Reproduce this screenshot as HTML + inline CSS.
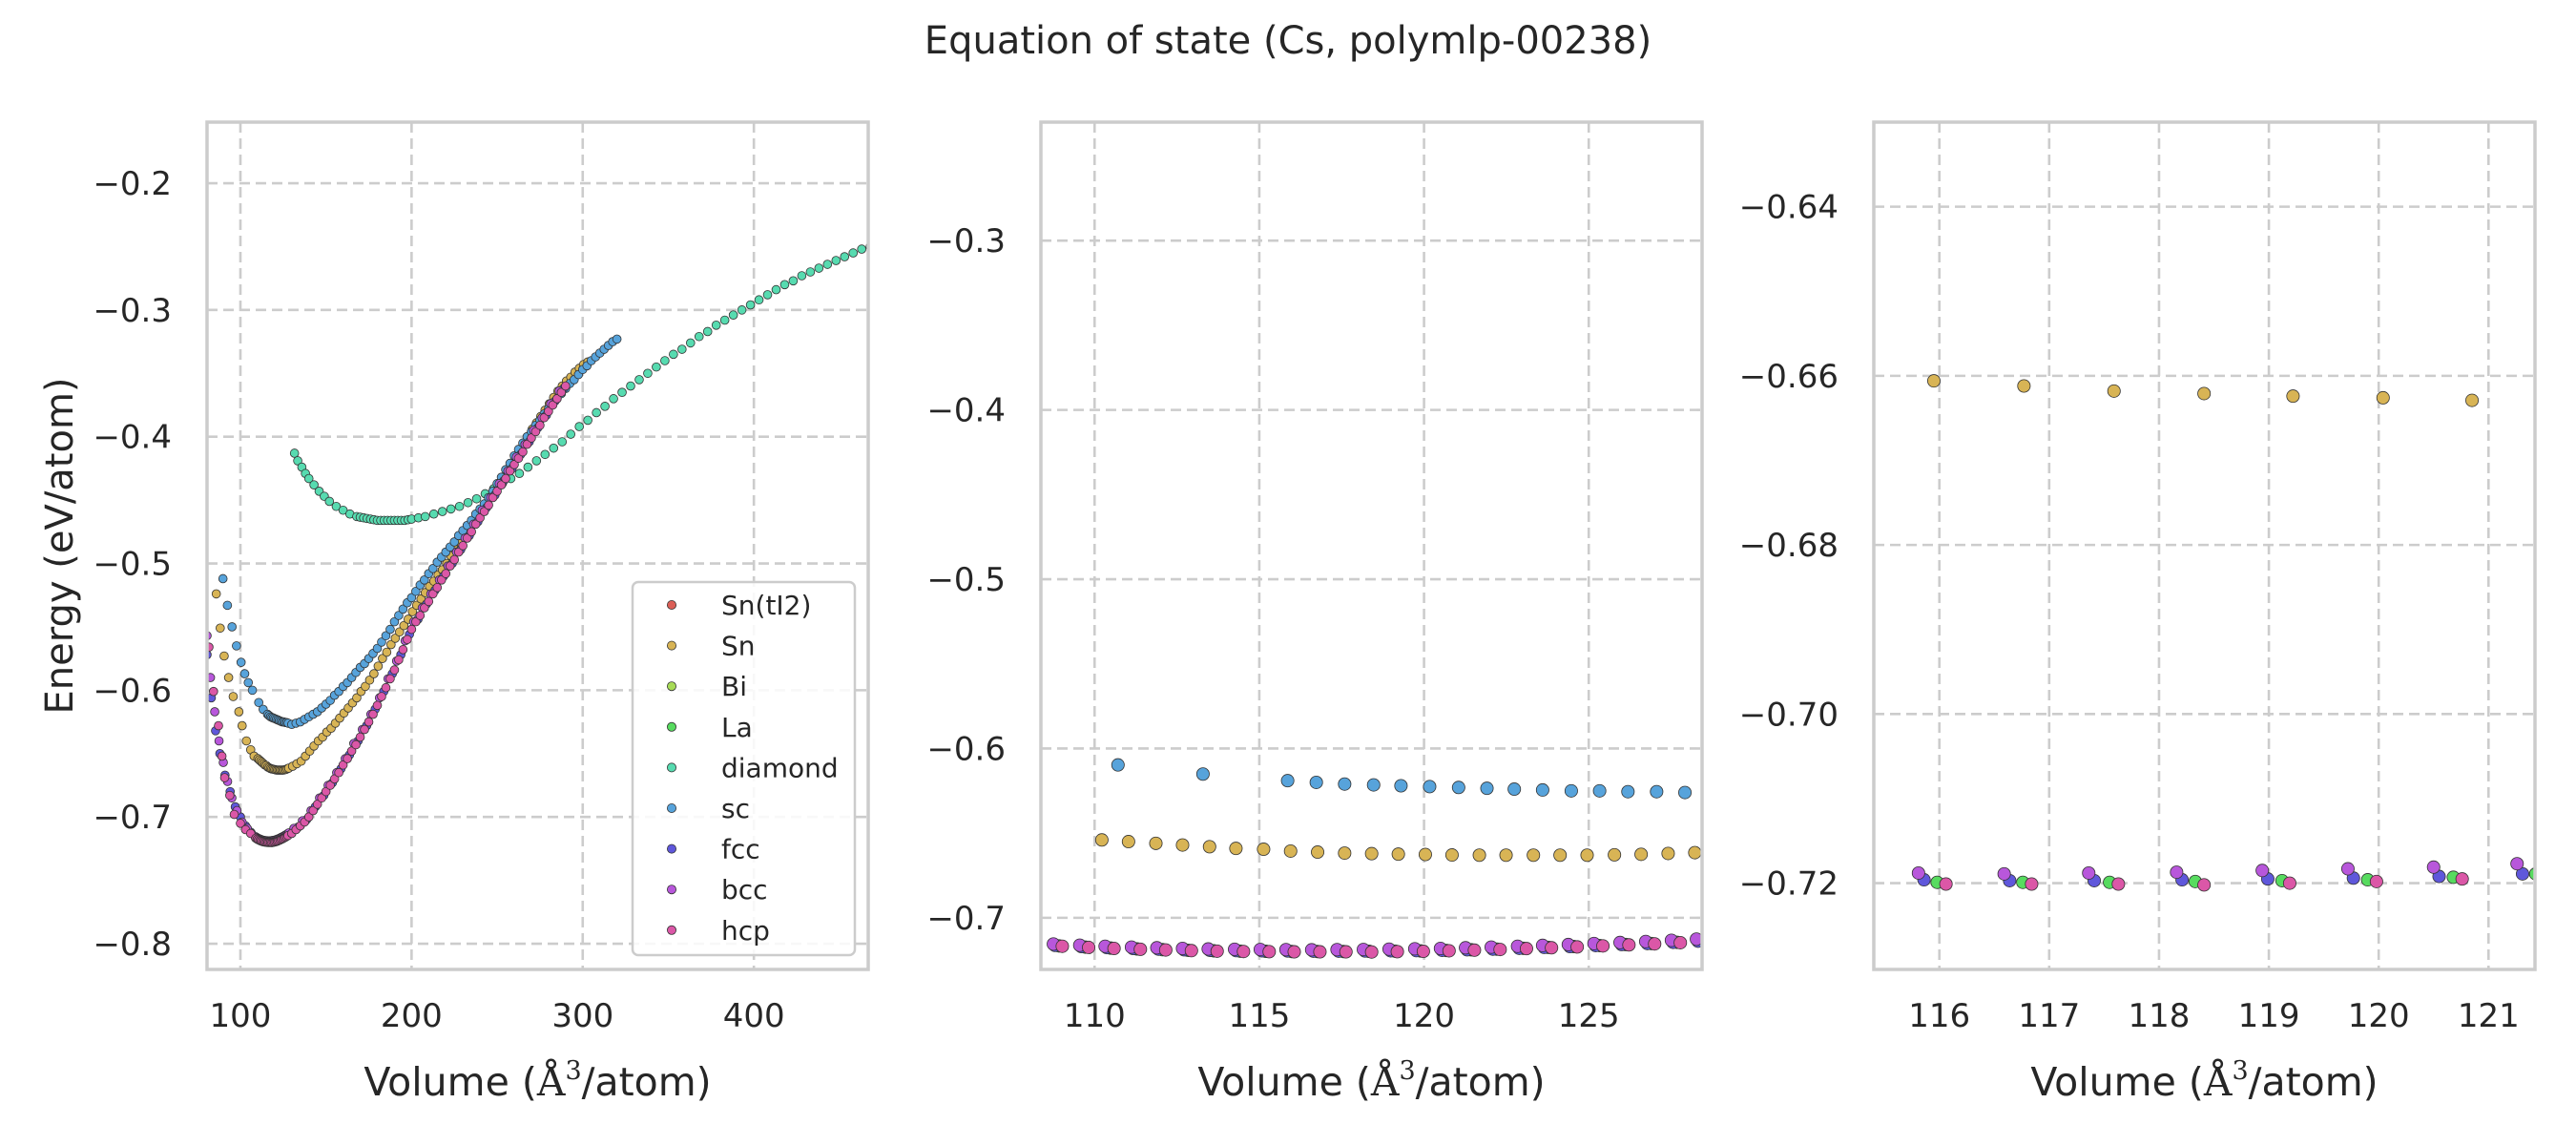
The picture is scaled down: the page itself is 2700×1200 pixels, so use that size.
<!DOCTYPE html>
<html><head><meta charset="utf-8"><style>
html,body{margin:0;padding:0;background:#fff;}
svg{display:block;font-family:"DejaVu Sans","Liberation Sans",sans-serif;}
</style></head><body>
<svg id="fig" width="2700" height="1200" viewBox="0 0 2700 1200" style="position:absolute;left:0;top:0">
<rect x="0" y="0" width="2700" height="1200" fill="#fff"/>
<text x="1350" y="56" text-anchor="middle" font-size="40" fill="#262626">Equation of state (Cs, polymlp-00238)</text>
<text x="0" y="0" transform="translate(76,572) rotate(-90)" text-anchor="middle" font-size="40" fill="#262626">Energy (eV/atom)</text>
<g id="panels"></g>
</svg>
<script>
// ---- data (volume Å^3/atom, energy eV/atom) ----
const seriesNames = ["Sn(tI2)","Sn","Bi","La","diamond","sc","fcc","bcc","hcp"];
const seriesColors = ["#db5f57","#d8b455","#a7db57","#57db5f","#57dbb0","#57a3db","#5f57db","#b857db","#db57a7"];

const snTI2V = [];
const snTI2E = [];
const biV = [];
const biE = [];

const snV = [85.9,88.2,90.5,93.1,95.8,99.1,101,103.5,106,108,110.22,111.03,111.86,112.67,113.49,114.29,115.13,115.95,116.77,117.59,118.41,119.22,120.04,120.85,121.68,122.49,123.32,124.13,124.95,125.78,126.59,127.41,128.22,130.5,133,135.5,138,140.5,143,145.5,148,150.5,153,155.5,158,160.5,163,165.5,168,170.5,173,175.5,178,180.5,183,185.5,188,190.5,193,195.5,198,200.5,203,205.5,208,210.5,213,215.5,218,220.5,223,225.5,228,230.5,233,235.5,238,240.5,243,245.5,248,250.5,253,255.5,258,260.5,263,265.5,268,270.5,273,275.5,278,280.5,283,285.5,288,290.5,293,295.5,298,300.5,303];
const snE = [-0.524,-0.551,-0.573,-0.590,-0.605,-0.617,-0.628,-0.640,-0.647,-0.652,-0.654,-0.655,-0.656,-0.657,-0.658,-0.659,-0.6595,-0.6606,-0.6612,-0.6618,-0.6621,-0.6624,-0.6626,-0.6629,-0.663,-0.663,-0.663,-0.663,-0.663,-0.6628,-0.6625,-0.662,-0.6615,-0.660,-0.658,-0.656,-0.652,-0.648,-0.644,-0.640,-0.637,-0.633,-0.630,-0.626,-0.622,-0.618,-0.614,-0.610,-0.606,-0.601,-0.597,-0.592,-0.587,-0.581,-0.575,-0.570,-0.564,-0.559,-0.554,-0.549,-0.544,-0.538,-0.533,-0.528,-0.523,-0.518,-0.514,-0.509,-0.505,-0.500,-0.494,-0.489,-0.483,-0.478,-0.473,-0.468,-0.463,-0.458,-0.453,-0.448,-0.443,-0.438,-0.432,-0.427,-0.421,-0.416,-0.410,-0.405,-0.400,-0.394,-0.389,-0.384,-0.379,-0.374,-0.369,-0.364,-0.360,-0.356,-0.353,-0.349,-0.346,-0.343,-0.341];

const laV = [108.92,109.72,110.49,111.29,112.06,112.84,113.62,114.42,115.20,115.98,116.76,117.55,118.33,119.12,119.90,120.68,121.43,122.21,123.01,123.77,124.55,125.33,126.12,126.90,127.68];
const laE = [-0.7166,-0.7173,-0.7179,-0.7184,-0.7188,-0.7192,-0.7195,-0.7197,-0.7198,-0.7199,-0.7199,-0.7199,-0.7198,-0.7197,-0.7196,-0.7193,-0.7189,-0.7185,-0.7180,-0.7175,-0.7170,-0.7164,-0.7158,-0.7152,-0.7145];

const diamondV = [131.6,133.5,135.9,138,140,143,146,149,152,156,160,164,168,170,172,174,176,178,180,182,184,186,188,190,192,194,196,198,200,204,208,213,218,223,228,233,238,243,248,253,258,263,268,273,278,283,288,293,298,303,308,313,318,323,328,333,338,343,348,353,358,363,368,373,378,383,388,393,398,403,408,413,418,423,428,433,438,443,448,453,458,463,468];
const diamondE = [-0.413,-0.419,-0.424,-0.429,-0.433,-0.438,-0.443,-0.447,-0.451,-0.455,-0.458,-0.461,-0.463,-0.4635,-0.464,-0.4645,-0.465,-0.4655,-0.466,-0.466,-0.466,-0.466,-0.466,-0.466,-0.466,-0.466,-0.466,-0.4655,-0.465,-0.464,-0.463,-0.461,-0.459,-0.457,-0.455,-0.452,-0.449,-0.445,-0.441,-0.437,-0.433,-0.429,-0.424,-0.419,-0.414,-0.409,-0.404,-0.398,-0.392,-0.387,-0.381,-0.376,-0.370,-0.365,-0.360,-0.355,-0.350,-0.345,-0.340,-0.335,-0.331,-0.326,-0.321,-0.317,-0.312,-0.308,-0.304,-0.300,-0.296,-0.292,-0.288,-0.284,-0.280,-0.277,-0.273,-0.270,-0.267,-0.264,-0.261,-0.258,-0.255,-0.252,-0.250];

const scV = [89.8,92.4,95.1,97.7,100.4,102.5,104.6,107,110.71,113.29,115.86,116.73,117.59,118.47,119.30,120.17,121.05,121.91,122.74,123.60,124.47,125.33,126.19,127.06,127.92,130,132.5,135,137.5,140,142.5,145,147.5,150,152.5,155,157.5,160,162.5,165,167.5,170,172.5,175,177.5,180,182.5,185,187.5,190,192.5,195,197.5,200,202.5,205,207.5,210,212.5,215,217.5,220,222.5,225,227.5,230,232.5,235,237.5,240,242.5,245,247.5,250,252.5,255,257.5,260,262.5,265,267.5,270,272.5,275,277.5,280,282.5,285,287.5,290,292.5,295,297.5,300,302.5,305,307.5,310,312.5,315,317.5,320];
const scE = [-0.512,-0.533,-0.550,-0.565,-0.578,-0.587,-0.594,-0.600,-0.6097,-0.6151,-0.619,-0.620,-0.621,-0.6215,-0.622,-0.6225,-0.623,-0.6235,-0.624,-0.6245,-0.625,-0.625,-0.6255,-0.6255,-0.626,-0.627,-0.626,-0.625,-0.623,-0.621,-0.619,-0.617,-0.614,-0.611,-0.608,-0.604,-0.601,-0.597,-0.594,-0.590,-0.586,-0.582,-0.579,-0.575,-0.571,-0.567,-0.562,-0.557,-0.552,-0.546,-0.541,-0.536,-0.531,-0.527,-0.522,-0.517,-0.513,-0.508,-0.504,-0.499,-0.495,-0.491,-0.487,-0.483,-0.478,-0.474,-0.470,-0.466,-0.461,-0.457,-0.453,-0.448,-0.443,-0.437,-0.432,-0.426,-0.421,-0.415,-0.410,-0.405,-0.400,-0.396,-0.391,-0.387,-0.382,-0.378,-0.374,-0.370,-0.366,-0.362,-0.358,-0.355,-0.351,-0.347,-0.344,-0.340,-0.337,-0.334,-0.331,-0.328,-0.325,-0.323];

const fccV = [80.5,83,85.5,88,91,94,97,100,103,106,108.80,109.60,110.37,111.17,111.94,112.72,113.50,114.30,115.08,115.86,116.64,117.41,118.21,118.99,119.77,120.55,121.31,122.09,122.89,123.65,124.43,125.21,126.00,126.78,127.56,128.32,133.75,138.75,143.75,148.75,153.75,158.75,163.75,168.75,173.75,178.75,183.75,188.75,193.75,198.75,203.75,208.75,213.75,218.75,223.75,228.75,233.75,238.75,243.75,248.75,253.75,258.75,263.75,268.75,273.75,278.75,283.75,288.75];
const fccE = [-0.572,-0.606,-0.632,-0.650,-0.667,-0.680,-0.692,-0.700,-0.707,-0.712,-0.7163,-0.7170,-0.7176,-0.7181,-0.7185,-0.7189,-0.7192,-0.7194,-0.7195,-0.7196,-0.7197,-0.7197,-0.7196,-0.7195,-0.7194,-0.7192,-0.7189,-0.7185,-0.7180,-0.7175,-0.7170,-0.7164,-0.7158,-0.7152,-0.7145,-0.7138,-0.708,-0.702,-0.692,-0.683,-0.673,-0.662,-0.651,-0.640,-0.628,-0.615,-0.601,-0.587,-0.572,-0.556,-0.544,-0.532,-0.521,-0.510,-0.500,-0.489,-0.478,-0.467,-0.456,-0.446,-0.435,-0.425,-0.414,-0.404,-0.393,-0.383,-0.372,-0.362];

const bccV = [80.5,82.5,85,87.5,90,92.5,95,98,101,104,106.5,108.75,109.55,110.32,111.12,111.89,112.67,113.45,114.25,115.03,115.81,116.59,117.36,118.16,118.94,119.72,120.50,121.26,122.04,122.84,123.60,124.38,125.16,125.95,126.73,127.51,128.27,131.25,136.25,141.25,146.25,151.25,156.25,161.25,166.25,171.25,176.25,181.25,186.25,191.25,196.25,201.25,206.25,211.25,216.25,221.25,226.25,231.25,236.25,241.25,246.25,251.25,256.25,261.25,266.25,271.25,276.25,281.25,286.25];
const bccE = [-0.557,-0.590,-0.617,-0.640,-0.657,-0.672,-0.685,-0.695,-0.704,-0.709,-0.713,-0.7155,-0.7162,-0.7168,-0.7173,-0.7177,-0.7181,-0.7184,-0.7186,-0.7187,-0.7188,-0.7189,-0.7188,-0.7187,-0.7185,-0.7183,-0.7181,-0.7177,-0.7173,-0.7168,-0.7163,-0.7158,-0.7152,-0.7146,-0.7140,-0.7133,-0.7126,-0.709,-0.703,-0.695,-0.685,-0.675,-0.665,-0.654,-0.642,-0.631,-0.619,-0.606,-0.591,-0.577,-0.561,-0.546,-0.535,-0.524,-0.513,-0.502,-0.491,-0.480,-0.469,-0.458,-0.448,-0.437,-0.427,-0.416,-0.406,-0.395,-0.385,-0.374,-0.364];

const hcpV = [81.6,84.3,87.2,89.2,90.8,93.8,96.4,100,103,106,109.02,109.82,110.59,111.39,112.16,112.94,113.72,114.52,115.30,116.06,116.84,117.63,118.41,119.19,119.98,120.76,121.53,122.31,123.11,123.87,124.65,125.43,126.22,127.00,127.78,130,132.5,135,137.5,140,142.5,145,147.5,150,152.5,155,157.5,160,162.5,165,167.5,170,172.5,175,177.5,180,182.5,185,187.5,190,192.5,195,197.5,200,202.5,205,207.5,210,212.5,215,217.5,220,222.5,225,227.5,230,232.5,235,237.5,240,242.5,245,247.5,250,252.5,255,257.5,260,262.5,265,267.5,270,272.5,275,277.5,280,282.5,285,287.5,290];
const hcpE = [-0.566,-0.601,-0.628,-0.652,-0.669,-0.683,-0.698,-0.705,-0.710,-0.713,-0.7168,-0.7175,-0.7181,-0.7186,-0.7190,-0.7194,-0.7197,-0.7199,-0.7200,-0.7201,-0.7201,-0.7201,-0.7202,-0.7200,-0.7198,-0.7195,-0.7191,-0.7187,-0.7182,-0.7177,-0.7172,-0.7166,-0.7160,-0.7154,-0.7147,-0.713,-0.710,-0.707,-0.704,-0.700,-0.695,-0.690,-0.685,-0.680,-0.675,-0.670,-0.665,-0.659,-0.654,-0.648,-0.643,-0.637,-0.631,-0.625,-0.619,-0.612,-0.605,-0.598,-0.591,-0.584,-0.576,-0.568,-0.560,-0.552,-0.546,-0.541,-0.535,-0.530,-0.524,-0.519,-0.513,-0.508,-0.502,-0.497,-0.491,-0.486,-0.480,-0.475,-0.469,-0.464,-0.459,-0.454,-0.448,-0.443,-0.438,-0.433,-0.427,-0.422,-0.417,-0.412,-0.406,-0.401,-0.396,-0.391,-0.385,-0.380,-0.375,-0.370,-0.365,-0.360];

const panel1XTicks = [100,200,300,400];
const panel1YTicks = [-0.8,-0.7,-0.6,-0.5,-0.4,-0.3,-0.2];
const panel2XTicks = [110,115,120,125];
const panel2YTicks = [-0.7,-0.6,-0.5,-0.4,-0.3];
const panel3XTicks = [116,117,118,119,120,121];
const panel3YTicks = [-0.72,-0.70,-0.68,-0.66,-0.64];

const allV = [snTI2V,snV,biV,laV,diamondV,scV,fccV,bccV,hcpV];
const allE = [snTI2E,snE,biE,laE,diamondE,scE,fccE,bccE,hcpE];

// ---- layout ----
const NS = "http://www.w3.org/2000/svg";
const panelsG = document.getElementById("panels");
const PT = 128, PB = 1016;
const panels = [
  {x0:217, x1:910, xlim:[80.5,466.8], ylim:[-0.8203,-0.1518], xt:panel1XTicks, yt:panel1YTicks, dec:1, r:4.4, legend:true},
  {x0:1091, x1:1784, xlim:[108.37,128.44], ylim:[-0.7305,-0.2300], xt:panel2XTicks, yt:panel2YTicks, dec:1, r:6.6, legend:false},
  {x0:1964, x1:2657, xlim:[115.403,121.423], ylim:[-0.7302,-0.6300], xt:panel3XTicks, yt:panel3YTicks, dec:2, r:6.6, legend:false}
];
function mk(tag, attrs, parent){
  const e = document.createElementNS(NS, tag);
  for (const k in attrs) e.setAttribute(k, attrs[k]);
  if (parent) parent.appendChild(e);
  return e;
}
function fmt(v, d){ return (v<0?"\u2212":"") + Math.abs(v).toFixed(d); }

panels.forEach((p, pi) => {
  const sx = v => p.x0 + (v - p.xlim[0]) / (p.xlim[1]-p.xlim[0]) * (p.x1-p.x0);
  const sy = v => PB - (v - p.ylim[0]) / (p.ylim[1]-p.ylim[0]) * (PB-PT);
  const g = mk("g", {}, panelsG);
  
  
  const cid = "clip" + pi;
  const cp = mk("clipPath", {id:cid}, g);
  mk("rect", {x:p.x0, y:PT, width:p.x1-p.x0, height:PB-PT}, cp);
  p.xt.forEach(t => {
    const l = mk("line", {x1:sx(t), x2:sx(t), y1:PT, y2:PB, stroke:"#cccccc", "stroke-width":2.6, "stroke-dasharray":"11,6"}, g);
    
    
    const tx = mk("text", {x:sx(t), y:1076, "text-anchor":"middle", "font-size":34, fill:"#262626"}, g);
    tx.textContent = String(t);
    
    
  });
  p.yt.forEach(t => {
    const l = mk("line", {x1:p.x0, x2:p.x1, y1:sy(t), y2:sy(t), stroke:"#cccccc", "stroke-width":2.6, "stroke-dasharray":"11,6"}, g);
    
    
    const tx = mk("text", {x:p.x0-37, y:sy(t)+12, "text-anchor":"end", "font-size":34, fill:"#262626"}, g);
    tx.textContent = fmt(t, p.dec);
    
    
  });
  const pg = mk("g", {"clip-path":"url(#"+cid+")"}, g);
  
  
  allV.forEach((vs, si) => {
    const es = allE[si];
    vs.forEach((v, i) => {
      const c = mk("circle", {cx:sx(v), cy:sy(es[i]), r:p.r, fill:seriesColors[si], stroke:"#333", "stroke-width":0.8}, pg);
      
      
    });
  });
  const fr = mk("rect", {x:p.x0, y:PT, width:p.x1-p.x0, height:PB-PT, fill:"none", stroke:"#cccccc", "stroke-width":3.5}, g);
  
  
  const xl = mk("text", {x:(p.x0+p.x1)/2, y:1148, "text-anchor":"middle", "font-size":41, fill:"#262626"}, g);
  
  
  xl.appendChild(document.createTextNode("Volume ("));
  const a = mk("tspan", {"font-family":"DejaVu Serif, Liberation Serif, serif"}, xl);
  a.textContent = "Å";
  const s3 = mk("tspan", {"font-family":"DejaVu Serif, Liberation Serif, serif", "font-size":27, dy:-17}, xl);
  s3.textContent = "3";
  const rest = mk("tspan", {dy:17}, xl);
  rest.textContent = "/atom)";
  if (p.legend) {
    const lg = mk("g", {}, g);
    
    
    mk("rect", {x:663, y:610, width:233, height:391, rx:6, fill:"#fff", "fill-opacity":0.85, stroke:"#cccccc", "stroke-width":2.5}, lg);
    seriesNames.forEach((n, si) => {
      const y = 634 + si*42.6;
      const e = mk("g", {}, lg);
      
      
      mk("circle", {cx:704, cy:y, r:4.6, fill:seriesColors[si], stroke:"#333", "stroke-width":0.8}, e);
      const t = mk("text", {x:756, y:y+10, "font-size":28, fill:"#262626"}, e);
      t.textContent = n;
    });
  }
});
</script>
</body></html>
